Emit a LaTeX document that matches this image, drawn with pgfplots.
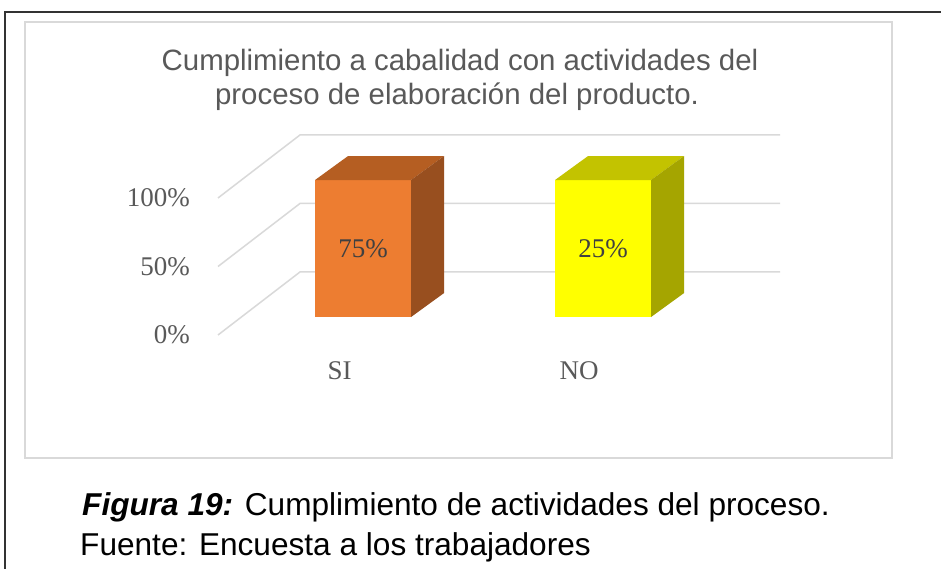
\documentclass[border=0pt]{standalone}
\usepackage{pgfplots}
\pgfplotsset{compat=1.18}
\usepackage{fontspec}
\setmainfont{Liberation Serif}
\newfontfamily\arial{Liberation Sans}
\definecolor{gridc}{HTML}{D9D9D9}
\definecolor{txtgray}{HTML}{595959}
\definecolor{lblgray}{HTML}{404040}
\definecolor{orfront}{HTML}{ED7D31}
\definecolor{ortop}{HTML}{B55E22}
\definecolor{orside}{HTML}{984F1F}
\definecolor{yefront}{HTML}{FFFF00}
\definecolor{yetop}{HTML}{C3C300}
\definecolor{yeside}{HTML}{A5A500}
\begin{document}
\begin{tikzpicture}[x=1bp,y=1bp]
\path[use as bounding box] (0,0) rectangle (941,569);
\fill[white] (0,0) rectangle (941,569);
\draw[line width=1.5bp, black!80] (5,0) -- (5,557) -- (941,557);
\draw[line width=1.5bp, gridc] (25,111) rectangle (892,547);
\node[anchor=base, inner sep=0, text=txtgray, font=\arial\fontsize{29.4bp}{35bp}\selectfont] at (460,498) {Cumplimiento a cabalidad con actividades del};
\node[anchor=base, inner sep=0, text=txtgray, font=\arial\fontsize{29.4bp}{35bp}\selectfont] at (457,464) {proceso de elaboración del producto.};
\begin{axis}[at={(218bp,234bp)}, anchor=south west, x=1bp, y=1.37bp,
  xmin=218, xmax=780, ymin=0, ymax=146, clip=false, no markers,
  axis line style={draw=none}, major tick length=0pt,
  ytick={0,50,100}, yticklabels={0\%,50\%,100\%},
  xtick={339.5,579}, xticklabels={SI,NO},
  ticklabel style={font=\fontsize{27bp}{32bp}\selectfont, text=txtgray, inner sep=0pt},
  yticklabel style={anchor=east, xshift=-28bp},
  xticklabel style={anchor=north, yshift=-26bp}]
% back-wall gridlines with floor diagonals
\addplot[gridc, line width=1.5bp] coordinates {(218,0) (300,46) (780,46)};
\addplot[gridc, line width=1.5bp] coordinates {(218,50) (300,96) (780,96)};
\addplot[gridc, line width=1.5bp] coordinates {(218,100) (300,146) (780,146)};
% SI: 100% stacked bar (label 75%)
\addplot[fill=orfront, draw=none] coordinates {(315,13.1) (411,13.1) (411,113.1) (315,113.1)};
\addplot[fill=ortop, draw=none] coordinates {(315,113.1) (411,113.1) (444,130.6) (348,130.6)};
\addplot[fill=orside, draw=none] coordinates {(411,13.1) (444,30.6) (444,130.6) (411,113.1)};
% NO: 100% stacked bar (label 25%)
\addplot[fill=yefront, draw=none] coordinates {(555,13.1) (651,13.1) (651,113.1) (555,113.1)};
\addplot[fill=yetop, draw=none] coordinates {(555,113.1) (651,113.1) (684,130.6) (588,130.6)};
\addplot[fill=yeside, draw=none] coordinates {(651,13.1) (684,30.6) (684,130.6) (651,113.1)};
\node[text=lblgray, font=\fontsize{27bp}{32bp}\selectfont, inner sep=0] at (axis cs:363,63.1) {75\%};
\node[text=lblgray, font=\fontsize{27bp}{32bp}\selectfont, inner sep=0] at (axis cs:603,63.1) {25\%};
\end{axis}
\node[anchor=base west, inner sep=0, font=\arial\fontsize{31.6bp}{40bp}\selectfont] at (82,53) {\textbf{\textit{Figura 19:}} Cumplimiento de actividades del proceso.};
\node[anchor=base west, inner sep=0, font=\arial\fontsize{31.6bp}{40bp}\selectfont] at (80,13) {Fuente: Encuesta a los trabajadores};
\end{tikzpicture}
\end{document}
